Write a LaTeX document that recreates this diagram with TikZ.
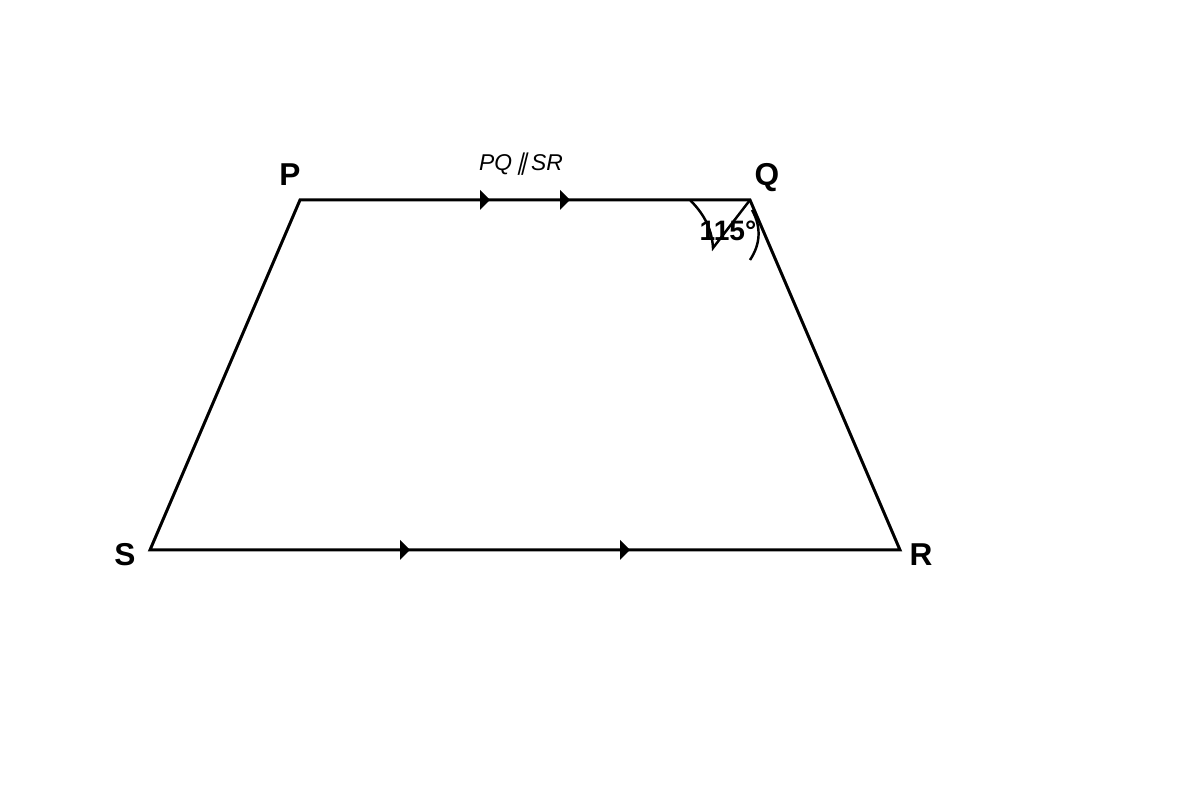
\documentclass[tikz,border=0pt]{standalone}
\usepackage{fontspec}
\setmainfont{Liberation Sans}
\newfontfamily\parfont[FakeSlant=0.25]{DejaVu Sans}
\usetikzlibrary{positioning}

\begin{document}
\begin{tikzpicture}[line width=0.85pt,
  vlabel/.style={font=\fontsize{9}{11}\selectfont\bfseries},
  tick/.style={fill=black,draw=none}]
 \useasboundingbox (0,0) rectangle (12,8);
 \coordinate (P) at (3,6);
 \coordinate (Q) at (7.5,6);
 \coordinate (R) at (9,2.5);
 \coordinate (S) at (1.5,2.5);
 \draw (P)--(Q)--(R)--(S)--cycle;
 % parallel marks
 \foreach \x in {4.8,5.6} \fill[tick] (\x,6.1)--(\x,5.9)--(\x+0.1,6)--cycle;
 \foreach \x in {4.0,6.2} \fill[tick] (\x,2.6)--(\x,2.4)--(\x+0.1,2.5)--cycle;
 % angle at Q
 \coordinate (a1) at (6.9,6);
 \coordinate (a2) at (7.13,5.52);
 \draw[line width=0.7pt] (a1) .. controls (7.05,5.85) and (7.12,5.7) .. (a2) -- (Q);
 \draw[line width=0.7pt] (7.52,5.9) .. controls (7.62,5.72) and (7.6,5.55) .. (7.5,5.4);
 \node[font=\fontsize{8}{10}\selectfont\bfseries] (ang) at (7.28,5.69) {115°};
 \node[vlabel] (lP) at (2.9,6.25) {P};
 \node[vlabel] (lQ) at (7.67,6.22) {Q};
 \node[vlabel] (lR) at (9.21,2.45) {R};
 \node[vlabel] (lS) at (1.25,2.45) {S};
 \node[font=\fontsize{6.5}{8}\selectfont\itshape] (par) at (5.21,6.36) {PQ\,{\parfont ∥}\,SR};
\end{tikzpicture}
\end{document}
